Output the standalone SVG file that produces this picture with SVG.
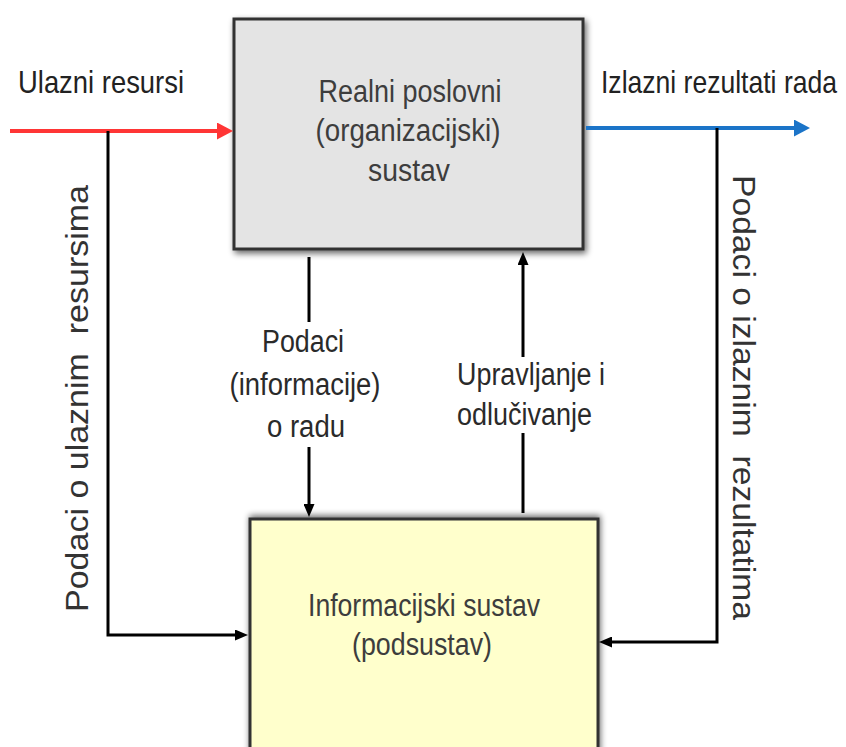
<svg xmlns="http://www.w3.org/2000/svg" width="846" height="747" viewBox="0 0 846 747">
<style>
.lbl{font-family:"Liberation Sans",Arial,sans-serif;font-size:32px;fill:#222}
.box{font-family:"Liberation Sans",Arial,sans-serif;font-size:31px;fill:#3d3d3d;text-anchor:middle}
.mid{font-family:"Liberation Sans",Arial,sans-serif;font-size:31px;fill:#2a2a2a}
.rot{font-family:"Liberation Sans",Arial,sans-serif;font-size:31px;fill:#333}
.blk{stroke:#000;stroke-width:3;fill:none}
</style>
<defs>
<filter id="sh" x="-10%" y="-10%" width="125%" height="125%">
<feGaussianBlur in="SourceAlpha" stdDeviation="3"/>
<feOffset dx="2" dy="3" result="b"/>
<feComponentTransfer><feFuncA type="linear" slope="0.6"/></feComponentTransfer>
<feMerge><feMergeNode/><feMergeNode in="SourceGraphic"/></feMerge>
</filter>
<filter id="sh2" x="-10%" y="-10%" width="125%" height="125%">
<feGaussianBlur in="SourceAlpha" stdDeviation="3"/>
<feOffset dx="1" dy="-2" result="b"/>
<feComponentTransfer><feFuncA type="linear" slope="0.6"/></feComponentTransfer>
<feMerge><feMergeNode/><feMergeNode in="SourceGraphic"/></feMerge>
</filter>
<marker id="ah" markerUnits="userSpaceOnUse" markerWidth="13" markerHeight="11" refX="6" refY="5.5" orient="auto">
<path d="M0,0 L13,5.5 L0,11 z" fill="#000"/>
</marker>
<marker id="ahr" markerUnits="userSpaceOnUse" markerWidth="16" markerHeight="17" refX="6" refY="8.5" orient="auto">
<path d="M0,0 L16,8.5 L0,17 z" fill="#ff3535"/>
</marker>
<marker id="ahb" markerUnits="userSpaceOnUse" markerWidth="16" markerHeight="17" refX="6" refY="8.5" orient="auto">
<path d="M0,0 L16,8.5 L0,17 z" fill="#1b74c8"/>
</marker>
</defs>

<g id="realni-sustav">
<rect x="234" y="19" width="349" height="230" fill="#e4e4e4" stroke="#333" stroke-width="3" filter="url(#sh)"/>
<text class="box" x="410" y="102" textLength="183" lengthAdjust="spacingAndGlyphs">Realni poslovni</text>
<text class="box" x="408" y="141" textLength="185" lengthAdjust="spacingAndGlyphs">(organizacijski)</text>
<text class="box" x="409" y="181" textLength="82" lengthAdjust="spacingAndGlyphs">sustav</text>
</g>

<g id="informacijski-sustav">
<rect x="250" y="519" width="348" height="245" fill="#ffffcc" stroke="#333" stroke-width="3" filter="url(#sh2)"/>
<text class="box" x="424" y="616" textLength="232" lengthAdjust="spacingAndGlyphs">Informacijski sustav</text>
<text class="box" x="422" y="655" textLength="140" lengthAdjust="spacingAndGlyphs">(podsustav)</text>
</g>

<g id="connectors">
<line x1="10" y1="131" x2="223" y2="131" stroke="#ff3535" stroke-width="4" marker-end="url(#ahr)"/>
<line x1="586" y1="128" x2="800" y2="128" stroke="#1b74c8" stroke-width="4" marker-end="url(#ahb)"/>
<polyline class="blk" points="108,131 108,635 241,635" marker-end="url(#ah)"/>
<polyline class="blk" points="717,128 717,642 606,642" marker-end="url(#ah)"/>
<line class="blk" x1="309" y1="257" x2="309" y2="322"/>
<line class="blk" x1="309" y1="447" x2="309" y2="510" marker-end="url(#ah)"/>
<line class="blk" x1="523" y1="513" x2="523" y2="433"/>
<line class="blk" x1="523" y1="357" x2="523" y2="259" marker-end="url(#ah)"/>
</g>

<g id="labels">
<text class="lbl" x="18" y="93" textLength="166" lengthAdjust="spacingAndGlyphs">Ulazni resursi</text>
<text class="lbl" transform="translate(601,93) scale(1,1.18)" x="0" y="0" style="font-size:27px" textLength="236" lengthAdjust="spacingAndGlyphs">Izlazni rezultati rada</text>
<text class="mid" x="303" y="352" text-anchor="middle" textLength="82" lengthAdjust="spacingAndGlyphs">Podaci</text>
<text class="mid" x="305" y="395" text-anchor="middle" textLength="151" lengthAdjust="spacingAndGlyphs">(informacije)</text>
<text class="mid" x="306" y="437" text-anchor="middle" textLength="78" lengthAdjust="spacingAndGlyphs">o radu</text>
<text class="mid" x="457" y="385" textLength="148" lengthAdjust="spacingAndGlyphs">Upravljanje i</text>
<text class="mid" x="457" y="425" textLength="135" lengthAdjust="spacingAndGlyphs">odlučivanje</text>
<text class="rot" transform="translate(88,612) rotate(-90)" x="0" y="0" textLength="427" lengthAdjust="spacingAndGlyphs" xml:space="preserve">Podaci o ulaznim  resursima</text>
<text class="rot" transform="translate(733,175) rotate(90)" x="0" y="0" textLength="445" lengthAdjust="spacingAndGlyphs" xml:space="preserve">Podaci o izlaznim  rezultatima</text>
</g>
</svg>
